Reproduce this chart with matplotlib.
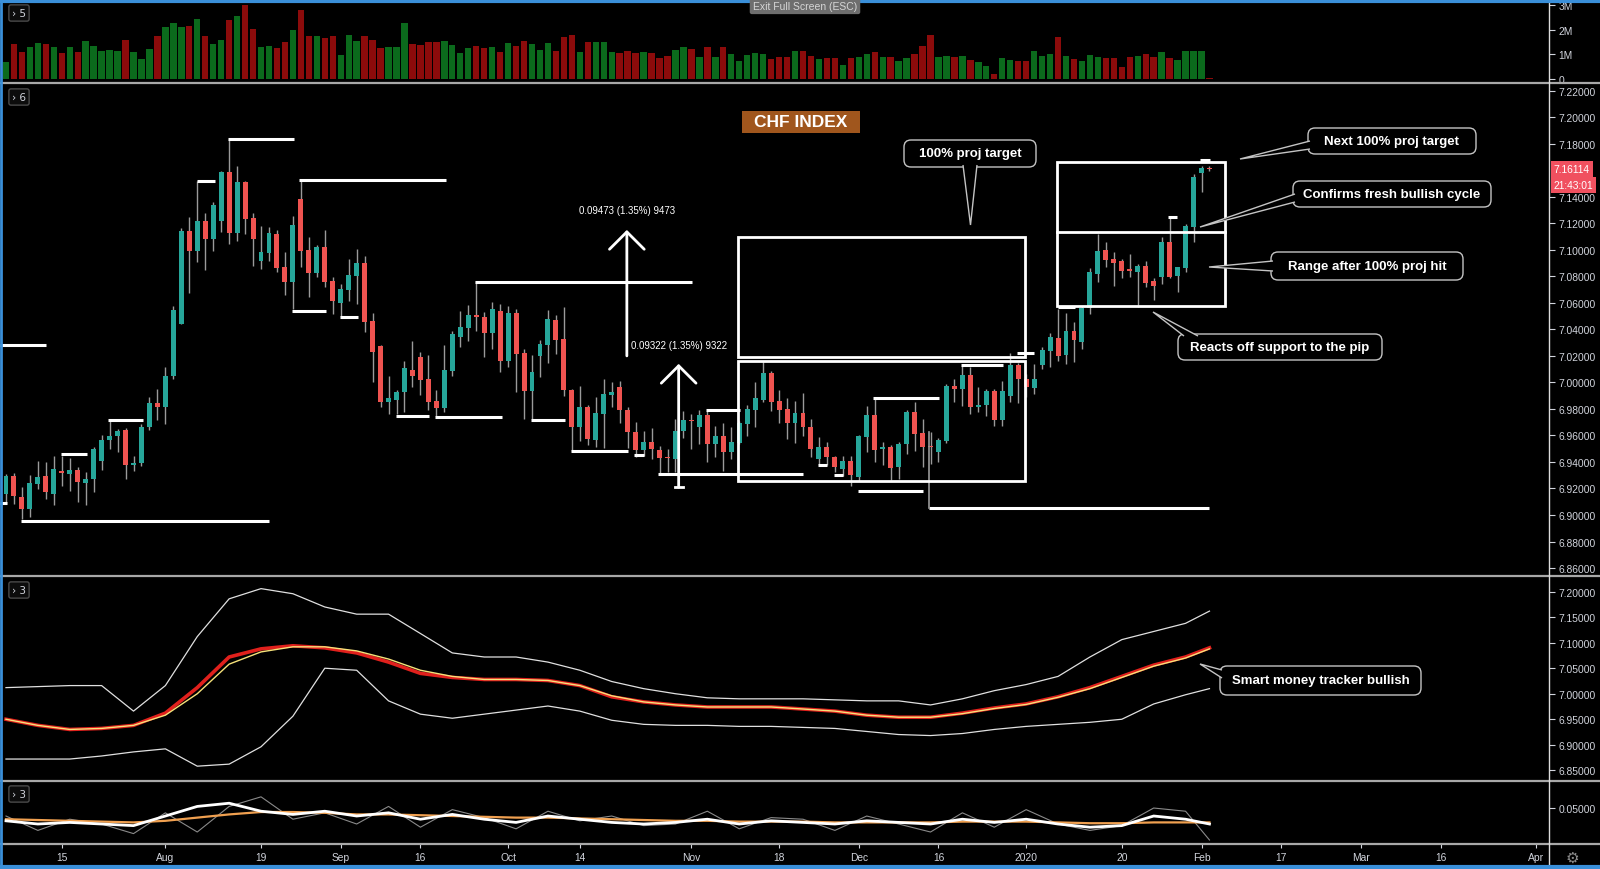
import numpy as np
import pandas as pd
import matplotlib
matplotlib.use('Agg')
import matplotlib.pyplot as plt
from matplotlib.patches import Rectangle, Polygon, FancyBboxPatch
from matplotlib.transforms import IdentityTransform, blended_transform_factory

# DATA
# =======================================

start_date = '2019-07-04'
holidays = ['2019-12-25', '2020-01-01']

opens = [6.9158, 6.9297, 6.9138, 6.9045, 6.9234, 6.9292, 6.9158, 6.9329, 6.9309, 6.9342,
         6.9241, 6.9271, 6.9410, 6.9566, 6.9598, 6.9641, 6.9377, 6.9390, 6.9661, 6.9845,
         6.9812, 7.0051, 7.0440, 7.1139, 7.0994, 7.1215, 7.1082, 7.1220, 7.1584, 7.1127,
         7.1509, 7.1240, 7.0918, 7.0976, 7.1119, 7.0868, 7.0755, 7.1383, 7.0999, 7.0825,
         7.1019, 7.0767, 7.0596, 7.0699, 7.0805, 7.0901, 7.0466, 7.0272, 6.9850, 6.9867,
         6.9925, 7.0096, 7.0189, 7.0026, 6.9862, 6.9804, 7.0088, 7.0345, 7.0410, 7.0508,
         7.0491, 7.0370, 7.0541, 7.0164, 7.0521, 7.0219, 6.9933, 7.0202, 7.0285, 7.0471,
         7.0327, 6.9945, 6.9666, 6.9812, 6.9566, 6.9762, 6.9907, 6.9968, 6.9792, 6.9623,
         6.9490, 6.9548, 6.9493, 6.9435, 6.9422, 6.9636, 6.9716, 6.9661, 6.9754, 6.9535,
         6.9593, 6.9478, 6.9540, 6.9686, 6.9792, 6.9867, 7.0071, 6.9862, 6.9799, 6.9691,
         6.9767, 6.9666, 6.9422, 6.9510, 6.9435, 6.9347, 6.9405, 6.9289, 6.9591, 6.9754,
         6.9495, 6.9510, 6.9364, 6.9535, 6.9779, 6.9616, 6.9520, 6.9478, 6.9561, 6.9970,
         6.9950, 7.0056, 6.9812, 6.9832, 6.9938, 6.9716, 6.9900, 7.0134, 7.0026, 6.9958,
         7.0134, 7.0239, 7.0332, 7.0209, 7.0390, 7.0302, 7.0559, 7.0818, 7.0999, 7.0931,
         7.0918, 7.0855, 7.0835, 7.0880, 7.0762, 7.0797, 7.1056, 7.0800, 7.0863, 7.1175,
         7.1577, 7.1617]
highs = [6.9309, 6.9314, 6.9214, 6.9304, 6.9405, 6.9397, 6.9447, 6.9447, 6.9427, 6.9359,
         6.9322, 6.9510, 6.9606, 6.9716, 6.9649, 6.9656, 6.9447, 6.9686, 6.9892, 6.9950,
         7.0119, 7.0579, 7.1165, 7.1250, 7.1517, 7.1275, 7.1358, 7.1592, 7.1836, 7.1635,
         7.1522, 7.1275, 7.1182, 7.1170, 7.1149, 7.0981, 7.1258, 7.1534, 7.1094, 7.1039,
         7.1149, 7.0792, 7.0742, 7.0931, 7.1006, 7.0956, 7.0521, 7.0282, 7.0046, 6.9945,
         7.0159, 7.0310, 7.0232, 7.0209, 6.9943, 7.0285, 7.0385, 7.0536, 7.0584, 7.0767,
         7.0528, 7.0604, 7.0591, 7.0579, 7.0554, 7.0252, 7.0207, 7.0320, 7.0546, 7.0511,
         7.0566, 6.9950, 6.9975, 6.9830, 6.9892, 7.0026, 7.0006, 7.0008, 6.9812, 6.9699,
         6.9636, 6.9654, 6.9523, 6.9498, 6.9724, 6.9782, 6.9762, 6.9792, 6.9782, 6.9674,
         6.9691, 6.9666, 6.9711, 6.9832, 7.0000, 7.0159, 7.0088, 6.9943, 6.9882, 6.9857,
         6.9918, 6.9724, 6.9591, 6.9548, 6.9447, 6.9442, 6.9442, 6.9606, 6.9825, 6.9882,
         6.9548, 6.9530, 6.9548, 6.9794, 6.9850, 6.9724, 6.9623, 6.9581, 6.9988, 7.0026,
         7.0126, 7.0114, 6.9963, 6.9950, 6.9950, 7.0013, 7.0219, 7.0144, 7.0063, 7.0139,
         7.0270, 7.0370, 7.0554, 7.0521, 7.0453, 7.0579, 7.0863, 7.1119, 7.1056, 7.0981,
         7.0931, 7.0968, 7.0893, 7.0918, 7.0787, 7.1094, 7.1258, 7.0873, 7.1195, 7.1572,
         7.1635, 7.1635]
lows = [6.9083, 6.9083, 6.8970, 6.8987, 6.9196, 6.9121, 6.9075, 6.9221, 6.9183, 6.9095,
        6.9075, 6.9176, 6.9339, 6.9498, 6.9473, 6.9271, 6.9329, 6.9372, 6.9641, 6.9716,
        6.9686, 7.0026, 7.0440, 7.0672, 7.0906, 7.0850, 7.0994, 7.1132, 7.1044, 7.1069,
        7.1119, 7.0880, 7.0855, 7.0918, 7.0830, 7.0662, 7.0554, 7.0868, 7.0642, 7.0792,
        7.0717, 7.0516, 7.0496, 7.0616, 7.0591, 7.0378, 7.0000, 6.9817, 6.9762, 6.9762,
        6.9774, 6.9963, 6.9907, 6.9794, 6.9749, 6.9774, 7.0051, 7.0264, 7.0310, 7.0390,
        7.0189, 7.0252, 7.0076, 7.0114, 6.9925, 6.9724, 6.9724, 7.0043, 7.0144, 7.0214,
        6.9900, 6.9485, 6.9561, 6.9530, 6.9510, 6.9505, 6.9812, 6.9691, 6.9503, 6.9440,
        6.9447, 6.9422, 6.9314, 6.9322, 6.9322, 6.9581, 6.9498, 6.9535, 6.9397, 6.9435,
        6.9334, 6.9422, 6.9535, 6.9598, 6.9666, 6.9850, 6.9782, 6.9691, 6.9573, 6.9540,
        6.9598, 6.9435, 6.9380, 6.9380, 6.9322, 6.9297, 6.9221, 6.9254, 6.9473, 6.9397,
        6.9380, 6.9264, 6.9271, 6.9460, 6.9480, 6.9359, 6.9385, 6.9397, 6.9540, 6.9850,
        6.9825, 6.9762, 6.9774, 6.9749, 6.9674, 6.9674, 6.9850, 6.9842, 6.9887, 6.9912,
        7.0101, 7.0114, 7.0159, 7.0139, 7.0151, 7.0252, 7.0516, 7.0755, 7.0868, 7.0730,
        7.0787, 7.0792, 7.0566, 7.0722, 7.0622, 7.0742, 7.0787, 7.0679, 7.0830, 7.1056,
        7.1434, 7.1592]
closes = [6.9297, 6.9146, 6.9045, 6.9239, 6.9284, 6.9171, 6.9347, 6.9314, 6.9342, 6.9251,
          6.9271, 6.9498, 6.9568, 6.9598, 6.9636, 6.9377, 6.9390, 6.9661, 6.9842, 6.9812,
          7.0051, 7.0546, 7.1139, 7.0994, 7.1215, 7.1082, 7.1341, 7.1584, 7.1127, 7.1509,
          7.1232, 7.1082, 7.0986, 7.1127, 7.0860, 7.0755, 7.1190, 7.0994, 7.0825, 7.1019,
          7.0755, 7.0616, 7.0704, 7.0813, 7.0901, 7.0458, 7.0227, 6.9850, 6.9880, 6.9925,
          7.0106, 7.0046, 7.0018, 6.9855, 6.9804, 7.0094, 7.0365, 7.0415, 7.0508, 7.0491,
          7.0370, 7.0554, 7.0164, 7.0521, 7.0214, 6.9933, 7.0076, 7.0290, 7.0478, 7.0322,
          6.9943, 6.9661, 6.9812, 6.9573, 6.9767, 6.9912, 6.9925, 6.9792, 6.9623, 6.9490,
          6.9548, 6.9498, 6.9427, 6.9427, 6.9636, 6.9716, 6.9706, 6.9754, 6.9535, 6.9593,
          6.9478, 6.9548, 6.9691, 6.9799, 6.9880, 7.0068, 6.9850, 6.9792, 6.9691, 6.9767,
          6.9661, 6.9498, 6.9510, 6.9435, 6.9359, 6.9405, 6.9302, 6.9598, 6.9754, 6.9490,
          6.9510, 6.9352, 6.9535, 6.9779, 6.9611, 6.9515, 6.9510, 6.9566, 6.9975, 6.9950,
          7.0056, 6.9812, 6.9832, 6.9938, 6.9716, 6.9938, 7.0134, 7.0026, 6.9963, 7.0026,
          7.0244, 7.0340, 7.0202, 7.0390, 7.0322, 7.0561, 7.0830, 7.0994, 7.0926, 7.0898,
          7.0843, 7.0838, 7.0880, 7.0750, 7.0725, 7.1056, 7.0797, 7.0868, 7.1182, 7.1552,
          7.1615, 7.1611]

# volume in millions, direction g/r per bar
volume_m = [0.68, 1.42, 1.08, 1.28, 1.46, 1.42, 1.31, 1.05, 1.28, 1.08,
            1.55, 1.35, 1.15, 1.18, 1.15, 1.59, 1.08, 0.81, 1.22, 1.73,
            2.12, 2.27, 2.12, 2.16, 2.43, 1.73, 1.42, 1.58, 2.41, 2.54,
            3.00, 2.03, 1.28, 1.35, 1.24, 1.49, 1.99, 2.81, 1.76, 1.73,
            1.65, 1.73, 0.97, 1.78, 1.55, 1.76, 1.59, 1.24, 1.31, 1.28,
            2.27, 1.42, 1.38, 1.49, 1.49, 1.55, 1.38, 1.05, 1.24, 1.35,
            1.24, 1.28, 1.08, 1.46, 1.35, 1.55, 1.42, 1.18, 1.46, 1.15,
            1.72, 1.78, 1.08, 1.51, 1.49, 1.49, 1.08, 1.05, 1.15, 1.05,
            1.08, 1.05, 0.84, 0.95, 1.18, 1.28, 1.22, 0.88, 1.28, 0.91,
            1.31, 1.01, 0.74, 0.99, 1.05, 1.01, 0.81, 0.91, 0.88, 1.12,
            1.12, 0.95, 0.81, 0.84, 0.84, 0.57, 0.84, 0.91, 1.01, 1.08,
            0.88, 0.88, 0.74, 0.84, 1.01, 1.35, 1.78, 0.91, 0.95, 0.88,
            0.92, 0.78, 0.70, 0.54, 0.20, 0.84, 0.77, 0.74, 0.74, 1.15,
            0.95, 1.01, 1.69, 0.95, 0.81, 0.74, 0.97, 0.91, 0.84, 0.84,
            0.50, 0.91, 0.95, 1.01, 0.91, 1.08, 0.84, 0.78, 1.12, 1.12,
            1.12, 0.03]
volume_dir = ("grrggrgrgr" "gggggrgggr" "gggrgrggrg" "rrggrrgrrg" "rrgggrrrgg"
              "grrrrggggr" "rgrgrrgggr" "rrgrg"
              "ggrrrgrrrggrgrgrgggggrrrgrrgrrgrggrgrggrrrggrgrggrggrrgggrgrgggrrrrgrrgrggg"
              "gr")

last_price = 7.16114
countdown = '21:43:01'

# smart money tracker (band panel), read every 4 bars
smt_idx = list(range(0, 152, 4)) + [151]
smt_upper = [7.0117, 7.0137, 7.0157, 7.0157, 6.9656, 7.0157, 7.1119, 7.1860, 7.2060, 7.1960,
             7.1700, 7.1559, 7.1559, 7.1179, 7.0798, 7.0718, 7.0718, 7.0618, 7.0458, 7.0237,
             7.0097, 6.9997, 6.9917, 6.9897, 6.9897, 6.9897, 6.9877, 6.9857, 6.9857, 6.9777,
             6.9897, 7.0057, 7.0177, 7.0337, 7.0718, 7.1059, 7.1219, 7.1379, 7.1619]
smt_lower = [6.8715, 6.8715, 6.8715, 6.8775, 6.8855, 6.8915, 6.8575, 6.8615, 6.8956, 6.9556,
             7.0498, 7.0458, 6.9857, 6.9596, 6.9516, 6.9596, 6.9676, 6.9756, 6.9656, 6.9476,
             6.9396, 6.9376, 6.9376, 6.9356, 6.9356, 6.9336, 6.9316, 6.9256, 6.9196, 6.9176,
             6.9216, 6.9296, 6.9356, 6.9396, 6.9436, 6.9496, 6.9796, 6.9977, 7.0097]
smt_mid = [6.9496, 6.9376, 6.9296, 6.9316, 6.9376, 6.9616, 7.0117, 7.0718, 7.0878, 7.0938,
           7.0898, 7.0798, 7.0618, 7.0397, 7.0317, 7.0277, 7.0277, 7.0257, 7.0157, 6.9937,
           6.9837, 6.9777, 6.9737, 6.9737, 6.9737, 6.9697, 6.9656, 6.9576, 6.9536, 6.9536,
           6.9616, 6.9717, 6.9797, 6.9937, 7.0117, 7.0337, 7.0558, 7.0718, 7.0898]
smt_signal = [6.9496, 6.9376, 6.9296, 6.9316, 6.9376, 6.9576, 6.9997, 7.0578, 7.0818, 7.0918,
              7.0918, 7.0838, 7.0678, 7.0458, 7.0337, 7.0277, 7.0277, 7.0257, 7.0157, 6.9957,
              6.9837, 6.9777, 6.9737, 6.9737, 6.9737, 6.9697, 6.9656, 6.9576, 6.9536, 6.9536,
              6.9606, 6.9707, 6.9787, 6.9927, 7.0097, 7.0317, 7.0538, 7.0698, 7.0878]

# oscillator panel, read every 4 bars
osc_idx = list(range(0, 152, 4)) + [151]
osc_raw = [0.040, 0.022, 0.036, 0.030, 0.018, 0.044, 0.020, 0.052, 0.064, 0.036,
           0.044, 0.030, 0.052, 0.026, 0.048, 0.038, 0.024, 0.046, 0.034, 0.040,
           0.028, 0.030, 0.046, 0.024, 0.038, 0.036, 0.022, 0.040, 0.030, 0.020,
           0.044, 0.026, 0.048, 0.030, 0.022, 0.028, 0.050, 0.046, 0.010]
osc_fast = [0.034, 0.030, 0.032, 0.030, 0.028, 0.040, 0.052, 0.056, 0.046, 0.042,
            0.046, 0.040, 0.044, 0.036, 0.042, 0.036, 0.032, 0.040, 0.036, 0.032,
            0.030, 0.032, 0.036, 0.030, 0.034, 0.032, 0.030, 0.034, 0.032, 0.030,
            0.036, 0.032, 0.036, 0.030, 0.026, 0.028, 0.040, 0.036, 0.030]
osc_slow = [0.036, 0.035, 0.034, 0.033, 0.032, 0.034, 0.038, 0.042, 0.045, 0.045,
            0.044, 0.042, 0.042, 0.041, 0.040, 0.039, 0.038, 0.038, 0.037, 0.036,
            0.035, 0.034, 0.034, 0.033, 0.033, 0.033, 0.032, 0.032, 0.032, 0.032,
            0.033, 0.033, 0.033, 0.032, 0.031, 0.031, 0.032, 0.032, 0.032]

tick_dates = ['2019-07-15', '2019-08-01', '2019-08-19', '2019-09-02', '2019-09-16', '2019-10-01',
              '2019-10-14', '2019-11-01', '2019-11-18', '2019-12-02', '2019-12-16', '2020-01-02',
              '2020-01-20', '2020-02-03', '2020-02-17', '2020-03-02', '2020-03-16', '2020-04-01']
tick_labels = ['15', 'Aug', '19', 'Sep', '16', 'Oct', '14', 'Nov', '18', 'Dec', '16', '2020',
               '20', 'Feb', '17', 'Mar', '16', 'Apr']

# STYLE
# =======================================

W, H = 1600, 870
GREEN, RED = '#26a69a', '#ef5350'
VGREEN, VRED = '#0b6a1c', '#8c0b0b'
WICK = '#9a9a9a'
TXT = '#d1d4dc'
EDGE = '#c4c4c4'
AXIS_RIGHT = 1549
XMIN, XMAX = -0.75, 193.6
PX = IdentityTransform()
LAB = dict(family='Liberation Sans', fontsize=7.4, color=TXT)

fig = plt.figure(figsize=(W / 100, H / 100), dpi=100, facecolor='black')


def make_axes(top, bottom):
    ax = fig.add_axes([0, 1 - bottom / H, AXIS_RIGHT / W, (bottom - top) / H])
    ax.set_facecolor('black')
    ax.set_xlim(XMIN, XMAX)
    for s in ax.spines.values():
        s.set_visible(False)
    ax.yaxis.tick_right()
    ax.tick_params(axis='y', colors=TXT, length=4, width=0.8, pad=3)
    ax.tick_params(axis='x', bottom=False, labelbottom=False)
    return ax


def set_right_ticks(ax, ticks, labels):
    ax.set_yticks(ticks)
    ax.set_yticklabels(labels, **LAB)


# trading-day positions
days = pd.bdate_range(start_date, '2020-04-30')
days = days[~days.isin(pd.to_datetime(holidays))]
pos = {d: i for i, d in enumerate(days)}
tick_pos = [pos[pd.Timestamp(d)] for d in tick_dates]
x = np.arange(len(closes))

# VOLUME PANEL
# =======================================
axv = make_axes(3, 84)
axv.set_ylim(-0.16, 3.12)
vcol = [VGREEN if d == 'g' else VRED for d in volume_dir]
axv.bar(x, volume_m, width=0.8, color=vcol)
set_right_ticks(axv, [0, 1, 2, 3], ['0', '1M', '2M', '3M'])

# MAIN PANEL
# =======================================
ax = make_axes(84, 577)
ax.set_ylim(6.854, 7.2258)
o, h, l, c = map(np.array, (opens, highs, lows, closes))
up = c >= o
ax.vlines(x, l, h, color=WICK, lw=1, zorder=2)
ax.bar(x, np.maximum(np.abs(c - o), 0.0004), bottom=np.minimum(o, c), width=0.62,
       color=np.where(up, GREEN, RED), zorder=3)
pticks = [t for t in np.round(np.arange(6.86, 7.2201, 0.02), 2) if t != 7.16]
set_right_ticks(ax, pticks, ['%.5f' % t for t in pticks])

# drawn support / resistance lines: (start bar, end bar, price)
levels = [(-0.75, 5.0, 7.028), (-0.75, 0.1, 6.909), (1.9, 33.0, 6.8957), (6.9, 10.2, 6.946),
          (12.8, 17.2, 6.972), (24.0, 26.2, 7.152), (27.9, 36.1, 7.1835), (36.8, 55.2, 7.153),
          (35.9, 40.2, 7.054), (41.9, 44.2, 7.049), (48.9, 53.1, 6.975), (53.8, 62.2, 6.974),
          (58.9, 86.1, 7.076), (65.9, 70.1, 6.972), (70.9, 78.0, 6.948), (78.8, 80.1, 6.945),
          (81.8, 100.0, 6.931), (87.8, 92.1, 6.979), (101.9, 103.0, 6.9377), (103.9, 105.0, 6.9304),
          (106.9, 115.1, 6.918), (108.8, 117.1, 6.988), (115.8, 151.0, 6.905), (119.8, 125.1, 7.013),
          (126.8, 129.0, 7.022), (132.0, 134.1, 7.057), (145.8, 146.9, 7.125), (149.8, 151.1, 7.168)]
for x0, x1, p in levels:
    ax.plot([x0, x1], [p, p], color='white', lw=2.2, solid_capstyle='butt', zorder=4)
ax.plot([115.8, 115.8], [6.9623, 6.905], color=WICK, lw=1.2, zorder=4)

# projection boxes: (start bar, end bar, low, high)
boxes = [(91.9, 127.9, 7.0194, 7.110), (91.9, 127.9, 6.9254, 7.0164), (131.9, 153.0, 7.0578, 7.166)]
for x0, x1, lo, hi in boxes:
    ax.add_patch(Rectangle((x0, lo), x1 - x0, hi - lo, fill=False, ec='white', lw=2, zorder=4))
ax.plot([131.9, 153.0], [7.1132, 7.1132], color='white', lw=2, zorder=4)

# measured moves
for xa, p0, p1, label, ly in [(77.9, 7.020, 7.115, '0.09473 (1.35%) 9473', 7.1299),
                              (84.4, 6.921, 7.014, '0.09322 (1.35%) 9322', 7.0284)]:
    ax.annotate('', xy=(xa, p1), xytext=(xa, p0),
                arrowprops=dict(arrowstyle='->,head_length=0.5,head_width=0.5', color='white',
                                lw=2, mutation_scale=25, shrinkA=0, shrinkB=0), zorder=5)
    ax.text(xa, ly, label, ha='center', va='center', color='white', fontsize=7,
            family='Liberation Sans', zorder=5)
ax.plot([84.0, 84.9], [6.921, 6.921], color='white', lw=2, zorder=5)

# price label on axis
tr = blended_transform_factory(ax.transAxes, ax.transData)
ax.text(1.003, last_price, '%.5f' % last_price, transform=tr, ha='left', va='center',
        fontsize=7.4, family='Liberation Sans', color='white', zorder=10, clip_on=False,
        bbox=dict(boxstyle='square,pad=0.3', fc='#f0505f', ec='none'))
ax.annotate(countdown, xy=(1.003, last_price), xycoords=tr, xytext=(0, -12),
            textcoords='offset points', ha='left', va='center', fontsize=7.4,
            family='Liberation Sans', color='white', annotation_clip=False, zorder=10,
            bbox=dict(boxstyle='square,pad=0.3', fc='#f0505f', ec='none'))

# SMART MONEY TRACKER PANEL
# =======================================
ax1 = make_axes(577, 782)
ax1.set_ylim(6.8284, 7.2308)
ax1.plot(smt_idx, smt_upper, color='#e0e0e0', lw=0.9)
ax1.plot(smt_idx, smt_lower, color='#e0e0e0', lw=0.9)
ax1.plot(smt_idx, smt_mid, color='#e0201c', lw=2.6)
ax1.plot(smt_idx, smt_signal, color='#f6e27a', lw=1)
sticks = np.round(np.arange(6.85, 7.2001, 0.05), 2)
set_right_ticks(ax1, sticks, ['%.5f' % t for t in sticks])

# OSCILLATOR PANEL
# =======================================
ax2 = make_axes(782, 845)
ax2.set_ylim(0.005, 0.0838)
ax2.plot(osc_idx, osc_raw, color='#8a8a8a', lw=0.8)
ax2.plot(osc_idx, osc_slow, color='#f0a050', lw=1.6)
ax2.plot(osc_idx, osc_fast, color='white', lw=2)
set_right_ticks(ax2, [0.05], ['0.05000'])
ax2.set_xticks(tick_pos)
ax2.set_xticklabels(tick_labels, **LAB)
ax2.tick_params(axis='x', bottom=True, labelbottom=True, colors=TXT, length=3, width=0.8, pad=3)

# FRAME, SEPARATORS, LABELS
# =======================================
for y in [84, 577, 782, 845]:
    fig.add_artist(plt.Line2D([0, W], [H - y, H - y], transform=PX, color='#a8a8a8', lw=1.6))
fig.add_artist(plt.Line2D([AXIS_RIGHT, AXIS_RIGHT], [0, H], transform=PX, color='#dcdcdc', lw=1))
fig.add_artist(plt.Line2D([0, W], [H - 1.5, H - 1.5], transform=PX, color='#3a8fd9', lw=3))
fig.add_artist(plt.Line2D([0, W], [2, 2], transform=PX, color='#3a8fd9', lw=3))
fig.add_artist(plt.Line2D([1, 1], [0, H], transform=PX, color='#3a8fd9', lw=2))

for label, y in [('\u203a 5', 14), ('\u203a 6', 98), ('\u203a 3', 591), ('\u203a 3', 795)]:
    fig.text(19 / W, 1 - y / H, label, ha='center', va='center', fontsize=7.5, color=TXT,
             family='DejaVu Sans',
             bbox=dict(boxstyle='round,pad=0.3,rounding_size=0.2', fc='#0c0c0c', ec='#4a4a4a', lw=1))

fig.text(805 / W, 1 - 7 / H, 'Exit Full Screen (ESC)', ha='center', va='center', fontsize=7.5,
         color='#d6d6d6', family='Liberation Sans',
         bbox=dict(boxstyle='round,pad=0.3,rounding_size=0.2', fc='#6e6e6e', ec='none'))
fig.text(1572 / W, 1 - 858 / H, '\u2699', ha='center', va='center', fontsize=11, color='#8a8a8a',
         family='DejaVu Sans')

# title tag
fig.add_artist(Rectangle((742, H - 134), 118, 22, transform=PX, fc='#a0561d', ec='none', zorder=6))
fig.text(801 / W, 1 - 123 / H, 'CHF INDEX', ha='center', va='center', fontsize=12.5,
         fontweight='bold', color='white', family='Liberation Sans', zorder=7)


def callout(text, x0, y0, x1, y1, b0, tip, b1):
    pts = [(b0[0], H - b0[1]), (tip[0], H - tip[1]), (b1[0], H - b1[1])]
    fig.add_artist(FancyBboxPatch((x0, H - y1), x1 - x0, y1 - y0, transform=PX,
                                  boxstyle='round,pad=0,rounding_size=7',
                                  fc='black', ec=EDGE, lw=1, zorder=6))
    fig.add_artist(Polygon(pts, closed=False, transform=PX, fc='black', ec=EDGE, lw=1, zorder=7))
    fig.text((x0 + x1) / 2 / W, 1 - (y0 + y1) / 2 / H, text, ha='center', va='center',
             fontsize=9.5, fontweight='bold', color='white', family='Liberation Sans', zorder=8)


callout('100% proj target', 904, 141, 1036, 168, (963, 166), (970.5, 226), (977, 166))
callout('Next 100% proj target', 1308, 129, 1476, 155, (1310, 142), (1240, 160), (1310, 150))
callout('Confirms fresh bullish cycle', 1293, 182, 1491, 208, (1295, 195), (1200, 228), (1295, 203))
callout('Range after 100% proj hit', 1271, 253, 1463, 281, (1273, 262), (1209, 268), (1273, 272))
callout('Reacts off support to the pip', 1178, 335, 1382, 361, (1184, 337), (1153, 313), (1198, 337))
callout('Smart money tracker bullish', 1220, 667, 1421, 696, (1222, 671), (1200, 665), (1222, 679))

fig.savefig('out.png', dpi=100, facecolor='black')
